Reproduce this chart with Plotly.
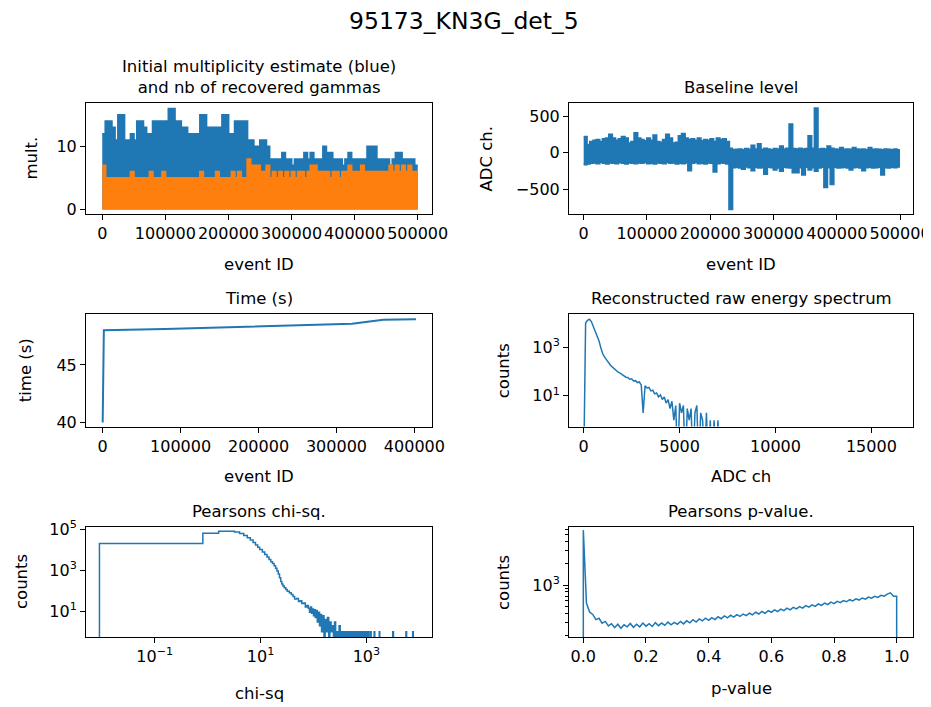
import plotly.graph_objects as go
from plotly.subplots import make_subplots

# target picture size; the html body adds an 8px margin, so the figure itself is
# drawn 8px smaller and every position is shifted to compensate
W, H = 931, 707
OFF = 8
FIG_W, FIG_H = W - OFF, H - OFF
BLUE = "#1f77b4"
ORANGE = "#ff7f0e"
FONT = "DejaVu Sans"

# ---- data ----
# event-ID bins (5000 events wide)
EVENT_BINS = list(range(0, 500001, 5000))

# per-bin maximum of the initial multiplicity (blue) and recovered gammas (orange)
MULT_MAX = [12, 14, 14, 13, 11, 15, 15, 11, 11, 12, 11, 14, 14, 13, 12, 12, 14, 14, 14, 14,
            14, 16, 16, 14, 14, 13, 13, 12, 12, 12, 12, 15, 15, 13, 13, 13, 13, 13, 15, 15,
            12, 12, 14, 14, 14, 14, 11, 11, 10, 10, 11, 11, 10, 8, 8, 8, 8, 9, 8, 8,
            7, 8, 8, 8, 9, 8, 9, 8, 8, 8, 10, 9, 9, 8, 8, 8, 7, 8, 9, 8,
            8, 8, 8, 8, 10, 10, 10, 8, 8, 8, 8, 7, 8, 9, 9, 8, 8, 8, 8, 7]
GAMMA_MAX = [7, 5, 5, 5, 5, 5, 5, 5, 5, 6, 5, 5, 5, 5, 5, 6, 5, 5, 5, 6,
             5, 5, 5, 5, 5, 5, 5, 5, 5, 5, 5, 6, 5, 5, 5, 5, 6, 5, 5, 5,
             5, 6, 5, 6, 5, 5, 8, 7, 7, 7, 6, 6, 7, 5, 6, 5, 6, 5, 6, 5,
             6, 5, 6, 6, 5, 6, 7, 7, 6, 6, 6, 6, 5, 6, 6, 5, 6, 6, 7, 6,
             6, 6, 7, 6, 6, 6, 6, 6, 6, 6, 6, 7, 6, 7, 6, 7, 6, 7, 6, 6]

# baseline level: upper / lower envelope per bin (ADC ch.)
BASE_HI = [220, 110, 150, 170, 180, 150, 190, 200, 250, 200, 170, 190, 220, 200, 130, 150, 270, 200, 180, 160,
           200, 170, 240, 150, 140, 180, 250, 200, 130, 140, 230, 260, 200, 180, 190, 170, 200, 160, 180, 170,
           190, 150, 200, 180, 190, 150, 60, 40, 45, 50, 40, 55, 45, 100, 50, 120, 45, 60, 50, 40,
           55, 50, 90, 50, 60, 390, 55, 50, 60, 50, 55, 230, 60, 610, 50, 55, 50, 90, 60, 50,
           45, 70, 45, 50, 45, 70, 50, 45, 50, 40, 70, 45, 50, 45, 40, 50, 45, 40, 50, 40]
BASE_LO = [-160, -150, -140, -135, -145, -130, -140, -150, -135, -140, -145, -130, -140, -150, -135, -140, -145, -135, -140, -130,
           -145, -140, -150, -135, -140, -145, -130, -140, -135, -150, -140, -145, -135, -240, -140, -130, -145, -140, -150, -135,
           -140, -260, -145, -135, -140, -150, -770, -200, -195, -205, -220, -190, -200, -240, -195, -205, -200, -290, -195, -200,
           -230, -205, -250, -195, -200, -205, -270, -270, -200, -300, -195, -230, -200, -250, -205, -195, -470, -200, -430, -195,
           -205, -200, -195, -205, -230, -200, -195, -205, -240, -200, -195, -205, -200, -195, -300, -200, -205, -195, -200, -190]

# time vs event ID
TIME_EVENT = [0, 1500, 80000, 190000, 295000, 320000, 340000, 360000, 402000]
TIME_S = [40.0, 48.0, 48.12, 48.32, 48.52, 48.58, 48.75, 48.92, 48.97]

# reconstructed raw energy spectrum, 100 ADC-channel bins starting at 0
ENERGY_EDGES = list(range(0, 7201, 100))
ENERGY_COUNTS = [0, 9800, 12500, 14000, 11200, 7000, 4500, 2800, 1800, 900,
                 520, 380, 290, 225, 180, 150, 125, 108, 93, 85,
                 74, 70, 58, 57, 48, 50, 41, 42, 35, 37,
                 28, 2, 26, 21, 22, 16, 17, 12, 13, 9,
                 11, 7, 9, 5, 7, 3, 6, 1, 4, 0,
                 5, 2, 4, 0, 3, 1, 3, 0, 2, 4,
                 0, 2, 1, 0, 2, 0, 1, 0, 1, 0,
                 1, 0]

# Pearson chi-sq histogram: bin left edges (last value = right edge) and counts
CHI_EDGES = [0.009, 0.81, 1.61, 2.41, 3.21, 4.01, 4.81, 5.61, 6.41, 7.21,
             8.01, 8.81, 9.61, 10.8, 12.0, 13.2, 14.4, 15.6, 16.8, 18.0,
             19.2, 20.4, 21.6, 22.8, 24.0, 25.2, 26.4, 28.0, 30.0, 32.0,
             35.0, 38.0, 41.0, 44.0, 48.0, 52.0, 56.0, 60.0, 65.0, 70.0,
             75.0, 80, 84, 88, 92, 96, 100, 104, 108, 112,
             118, 124, 130, 136, 142, 150, 158, 166, 175, 184,
             194, 204, 215, 226, 238, 250, 262, 276, 290, 305,
             320, 336, 352, 370, 388, 408, 428, 450, 470, 495,
             520, 545, 570, 600, 630, 660, 700, 740, 780, 820,
             870, 920, 980, 1040, 1100, 1180, 1230, 1400, 1440, 1750,
             1790, 3150, 3250, 5600, 5750, 7500, 7700]
CHI_COUNTS = [20000, 63000, 79000, 78000, 71000, 60000, 48000, 38000, 29500, 22500,
              17000, 13000, 10000, 7600, 5800, 4400, 3300, 2600, 2100, 1650,
              1250, 900, 650, 430, 280, 210, 170, 140, 115, 95,
              80, 65, 52, 40, 42, 30, 33, 24, 25, 16,
              19, 14, 9, 16, 8, 13, 6, 12, 5, 11,
              3, 9, 2, 7, 1, 6, 0, 4, 1, 5,
              0, 3, 1, 2, 0, 3, 0, 1, 0, 2,
              0, 1, 0, 1, 0, 1, 0, 1, 0, 1,
              0, 1, 0, 1, 0, 1, 0, 1, 0, 1,
              0, 1, 0, 1, 0, 1, 0, 1, 0, 1,
              0, 1, 0, 1, 0, 1]

# Pearson p-value histogram, 0.01 wide bins
P_EDGES = [i / 100 for i in range(101)]
P_COUNTS = [5800, 560, 420, 390, 330, 345, 295, 312, 270, 290,
            255, 285, 250, 280, 262, 292, 258, 285, 262, 296,
            268, 290, 265, 300, 272, 296, 275, 305, 280, 302,
            285, 312, 288, 318, 298, 330, 305, 338, 318, 345,
            322, 352, 330, 362, 340, 372, 350, 380, 358, 388,
            366, 395, 375, 405, 385, 418, 395, 428, 405, 440,
            418, 452, 428, 462, 440, 476, 452, 488, 466, 502,
            478, 516, 492, 530, 505, 545, 520, 560, 535, 578,
            552, 592, 568, 608, 585, 625, 600, 642, 618, 660,
            635, 678, 655, 698, 672, 718, 700, 748, 780, 700]


def step_xy(edges, counts, floor):
    """matplotlib histtype='step' outline; empty bins drop to floor (off a log axis)"""
    xs = [edges[0]] + list(edges[:-1]) + [edges[-1]]
    ys = [floor] + [c if c > 0 else floor for c in counts] + [floor]
    return xs, ys


def outline_xy(edges, counts, floor):
    """same outline but the bin tops joined directly (looks like a dense histogram)"""
    xs = [edges[0]] + list(edges[:-1]) + [edges[-1], edges[-1]]
    ys = [floor] + [c if c > 0 else floor for c in counts] + [counts[-1] if counts[-1] > 0 else floor, floor]
    return xs, ys


def px_x(x):
    return (x - OFF) / FIG_W


def px_y(y):
    return 1 - (y - OFF) / FIG_H


COL_L = [86, 569]
COL_R = [432, 913]
ROW_T = [103, 314, 527]
ROW_B = [214, 426.5, 637]

fig = make_subplots(rows=3, cols=2)

# multiplicity
mx = EVENT_BINS
fig.add_trace(go.Scatter(x=mx, y=MULT_MAX + [MULT_MAX[-1]], mode="lines", line_shape="hv",
                         line=dict(color=BLUE, width=2), fill="tozeroy", fillcolor=BLUE),
              row=1, col=1)
fig.add_trace(go.Scatter(x=mx, y=GAMMA_MAX + [GAMMA_MAX[-1]], mode="lines", line_shape="hv",
                         line=dict(color=ORANGE, width=2), fill="tozeroy", fillcolor=ORANGE),
              row=1, col=1)

# baseline band
fig.add_trace(go.Scatter(x=mx, y=BASE_LO + [BASE_LO[-1]], mode="lines", line_shape="hv",
                         line=dict(color=BLUE, width=2)), row=1, col=2)
fig.add_trace(go.Scatter(x=mx, y=BASE_HI + [BASE_HI[-1]], mode="lines", line_shape="hv",
                         line=dict(color=BLUE, width=2), fill="tonexty", fillcolor=BLUE),
              row=1, col=2)

# time
fig.add_trace(go.Scatter(x=TIME_EVENT, y=TIME_S, mode="lines", line=dict(color=BLUE, width=2)),
              row=2, col=1)

# energy spectrum
ex, ey = outline_xy(ENERGY_EDGES, ENERGY_COUNTS, 0.01)
fig.add_trace(go.Scatter(x=ex, y=ey, mode="lines",
                         line=dict(color=BLUE, width=1.5)), row=2, col=2)

# chi-sq
cx, cy = step_xy(CHI_EDGES, CHI_COUNTS, 0.01)
fig.add_trace(go.Scatter(x=cx, y=cy, mode="lines", line_shape="hv",
                         line=dict(color=BLUE, width=1.5)), row=3, col=1)

# p-value
pxs, pys = outline_xy(P_EDGES, P_COUNTS, 10)
fig.add_trace(go.Scatter(x=pxs, y=pys, mode="lines",
                         line=dict(color=BLUE, width=1.5)), row=3, col=2)

common = dict(showline=True, mirror=True, linecolor="black", linewidth=1,
              ticks="outside", ticklen=5, tickwidth=1, tickcolor="black",
              showgrid=False, zeroline=False, automargin=False,
              tickfont=dict(family=FONT, size=16, color="black"))

for r in range(3):
    for c in range(2):
        fig.update_xaxes(domain=[px_x(COL_L[c]), px_x(COL_R[c])], row=r + 1, col=c + 1, **common)
        fig.update_yaxes(domain=[px_y(ROW_B[r]), px_y(ROW_T[r])], row=r + 1, col=c + 1, **common)

fig.update_xaxes(range=[-25800, 522700], tickmode="linear", tick0=0, dtick=100000,
                 tickformat="d", tickangle=0, row=1, col=1)
fig.update_yaxes(range=[-0.7, 16.9], tickmode="linear", tick0=0, dtick=10, row=1, col=1)

fig.update_xaxes(range=[-23200, 520500], tickmode="linear", tick0=0, dtick=100000,
                 tickformat="d", tickangle=0, row=1, col=2)
fig.update_yaxes(range=[-836, 681], tickmode="linear", tick0=0, dtick=500, row=1, col=2)

fig.update_xaxes(range=[-21400, 422600], tickmode="linear", tick0=0, dtick=100000,
                 tickformat="d", tickangle=0, row=2, col=1)
fig.update_yaxes(range=[39.65, 49.42], tickmode="linear", tick0=40, dtick=5, row=2, col=1)

fig.update_xaxes(range=[-766, 17170], tickmode="linear", tick0=0, dtick=5000,
                 tickformat="d", tickangle=0, row=2, col=2)
fig.update_yaxes(type="log", range=[-0.26, 4.36], tickmode="array",
                 tickvals=[10, 1000], ticktext=["10<sup>1</sup>", "10<sup>3</sup>"], row=2, col=2)

fig.update_xaxes(type="log", range=[-2.30, 4.24], tickmode="array",
                 tickvals=[0.1, 10, 1000],
                 ticktext=["10<sup>\u22121</sup>", "10<sup>1</sup>", "10<sup>3</sup>"],
                 tickangle=0, row=3, col=1)
fig.update_yaxes(type="log", range=[-0.25, 5.1], tickmode="array",
                 tickvals=[10, 1000, 100000],
                 ticktext=["10<sup>1</sup>", "10<sup>3</sup>", "10<sup>5</sup>"], row=3, col=1)

fig.update_xaxes(range=[-0.0457, 1.0521], tickmode="linear", tick0=0, dtick=0.2,
                 tickformat=".1f", tickangle=0, row=3, col=2)
fig.update_yaxes(type="log", range=[2.277, 3.807], tickmode="array",
                 tickvals=[1000], ticktext=["10<sup>3</sup>"],
                 minor=dict(ticks="outside", ticklen=3, tickwidth=1, tickcolor="black",
                            tickmode="array",
                            tickvals=[200, 300, 400, 500, 600, 700, 800, 900,
                                      2000, 3000, 4000, 5000, 6000]),
                 row=3, col=2)

anns = []
tfont = dict(family=FONT, size=16.5, color="black")

# subplot titles
titles = [["Initial multiplicity estimate (blue)<br>and nb of recovered gammas", "Baseline level"],
          ["Time (s)", "Reconstructed raw energy spectrum"],
          ["Pearsons chi-sq.", "Pearsons p-value."]]
for r in range(3):
    for c in range(2):
        anns.append(dict(text=titles[r][c], x=px_x((COL_L[c] + COL_R[c]) / 2), y=px_y(ROW_T[r]),
                         xref="paper", yref="paper", xanchor="center", yanchor="bottom",
                         yshift=4, showarrow=False, font=tfont))

# x-axis titles (text, column, y centre in px)
xtitles = [("event ID", 0, 265), ("event ID", 1, 265),
           ("event ID", 0, 476), ("ADC ch", 1, 476),
           ("chi-sq", 0, 693), ("p-value", 1, 688)]
for text, c, yc in xtitles:
    anns.append(dict(text=text, x=px_x((COL_L[c] + COL_R[c]) / 2), y=px_y(yc),
                     xref="paper", yref="paper", xanchor="center", yanchor="middle",
                     showarrow=False, font=tfont))

# y-axis titles (text, row, x centre in px)
ytitles = [("mult.", 0, 31), ("ADC ch.", 0, 486),
           ("time (s)", 1, 25), ("counts", 1, 503),
           ("counts", 2, 21), ("counts", 2, 503)]
for text, r, xc in ytitles:
    anns.append(dict(text=text, x=px_x(xc), y=px_y((ROW_T[r] + ROW_B[r]) / 2),
                     xref="paper", yref="paper", xanchor="center", yanchor="middle",
                     textangle=-90, showarrow=False, font=tfont))

anns.append(dict(text="95173_KN3G_det_5", x=px_x(464), y=px_y(21), xref="paper", yref="paper",
                 xanchor="center", yanchor="middle", showarrow=False,
                 font=dict(family=FONT, size=23.5, color="black")))

fig.update_layout(width=FIG_W, height=FIG_H, margin=dict(l=0, r=0, t=0, b=0),
                  paper_bgcolor="white", plot_bgcolor="white", showlegend=False,
                  font=dict(family=FONT, color="black"), annotations=anns)

fig.write_html("out.html")
